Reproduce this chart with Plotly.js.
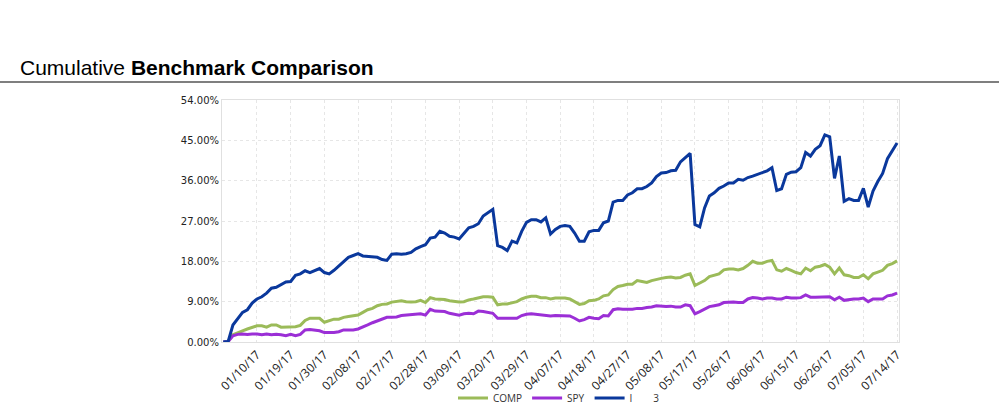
<!DOCTYPE html>
<html>
<head>
<meta charset="utf-8">
<script src="https://cdn.plot.ly/plotly-3.0.1.min.js"></script>
<style>html,body{margin:0;padding:0;background:#fff;}#chart{width:999px;height:418px;}</style>
</head>
<body>
<div id="chart"></div>
<script>
// Weekday dates from 12/30/2016 to 07/14/2017 (category labels)
function buildDates(start, count) {
  var out = [];
  var d = new Date(start);
  while (out.length < count) {
    var wd = d.getDay();
    if (wd !== 0 && wd !== 6) {
      var mm = String(d.getMonth() + 1).padStart(2, '0');
      var dd = String(d.getDate()).padStart(2, '0');
      var yy = String(d.getFullYear()).slice(2);
      out.push(mm + '/' + dd + '/' + yy);
    }
    d.setDate(d.getDate() + 1);
  }
  return out;
}
var dates = buildDates('2016-12-30T12:00:00', 141);

var seriesNames = ['COMP', 'SPY', 'I        3'];

var compValues = [
  0, 0.1, 1.6, 2.1, 2.5, 2.9, 3.3, 3.6, 3.6, 3.3,
  3.8, 3.8, 3.3, 3.3, 3.4, 3.4, 3.7, 4.8, 5.3, 5.3,
  5.3, 4.4, 4.7, 5.1, 5.1, 5.5, 5.7, 5.9, 6.0, 6.6,
  7.2, 7.5, 8.1, 8.4, 8.5, 8.9, 9.0, 9.2, 9.0, 8.9,
  9.0, 9.3, 8.8, 9.9, 9.6, 9.5, 9.5, 9.2, 9.0, 8.9,
  9.0, 9.4, 9.6, 9.9, 10.1, 10.1, 10.0, 8.3, 8.5, 8.5,
  8.7, 9.0, 9.6, 10.0, 10.2, 10.2, 9.9, 9.9, 9.6, 9.8,
  9.8, 9.8, 9.6, 9.0, 8.4, 8.6, 9.2, 9.3, 9.6, 10.3,
  10.5, 11.7, 12.4, 12.6, 12.9, 12.9, 13.7, 13.5, 13.3, 13.7,
  14.0, 14.2, 14.4, 14.5, 14.3, 14.4, 14.9, 15.2, 12.6, 13.1,
  13.7, 14.6, 14.9, 15.2, 16.1, 16.3, 16.3, 16.1, 16.4, 17.1,
  18.0, 17.6, 17.6, 18.0, 18.2, 16.1, 15.8, 16.4, 16.0, 15.5,
  15.2, 16.5, 15.9, 16.7, 16.9, 17.3, 16.7, 15.2, 16.5, 15.0,
  14.8, 14.4, 14.4, 15.0, 14.1, 15.2, 15.6, 16.0, 17.1, 17.5,
  18.1
];

var spyValues = [
  0, 0.1, 1.4, 1.7, 1.8, 1.7, 1.8, 1.8, 1.6, 1.8,
  1.6, 1.7, 1.6, 1.4, 1.7, 1.4, 1.7, 2.7, 2.8, 2.7,
  2.5, 2.1, 2.1, 2.1, 2.3, 2.7, 2.7, 2.7, 2.9, 3.3,
  3.8, 4.3, 4.7, 5.2, 5.5, 5.5, 5.6, 5.9, 6.0, 6.0,
  6.2, 6.3, 6.0, 7.3, 6.9, 6.9, 6.8, 6.4, 6.2, 6.0,
  6.3, 6.4, 6.3, 6.9, 6.8, 6.6, 6.4, 5.3, 5.3, 5.3,
  5.2, 5.3, 5.9, 6.2, 6.3, 6.2, 6.0, 5.9, 5.8, 5.9,
  5.9, 5.9, 5.8, 5.3, 4.7, 5.0, 5.5, 5.3, 5.2, 5.9,
  5.8, 7.2, 7.4, 7.3, 7.3, 7.3, 7.5, 7.5, 7.7, 7.8,
  8.1, 8.0, 7.9, 8.0, 7.8, 7.8, 8.3, 8.1, 6.3, 6.8,
  7.4, 7.9, 8.1, 8.3, 8.8, 8.9, 8.9, 8.8, 8.8, 9.6,
  9.9, 9.8, 9.6, 9.8, 9.8, 9.6, 9.6, 10.0, 9.8, 9.8,
  9.9, 10.5, 10.0, 10.0, 10.0, 10.1, 10.1, 9.4, 10.0, 9.3,
  9.5, 9.6, 9.6, 9.8, 9.0, 9.6, 9.6, 9.6, 10.3, 10.5,
  10.9
];

var portValues = [
  0, 0.1, 3.8, 5.3, 6.6, 7.2, 8.7, 9.6, 10.1, 10.9,
  12.0, 12.2, 12.8, 13.4, 13.5, 14.9, 15.2, 15.9, 15.5, 15.9,
  16.4, 15.5, 15.2, 16.0, 16.9, 18.0, 18.9, 19.3, 19.7, 19.2,
  19.1, 18.9, 18.9, 18.4, 18.2, 19.6, 19.7, 19.6, 19.7, 20.0,
  20.8, 21.3, 21.7, 23.2, 23.4, 24.7, 24.3, 23.6, 23.4, 23.0,
  24.3, 25.5, 25.8, 26.4, 28.1, 28.8, 29.6, 21.5, 21.1, 20.4,
  22.5, 22.1, 24.7, 26.7, 27.3, 27.3, 26.8, 27.7, 24.1, 25.1,
  25.8, 26.0, 25.8, 24.3, 22.5, 22.5, 24.6, 24.9, 24.9, 26.6,
  27.0, 31.2, 31.6, 31.6, 32.8, 33.3, 34.2, 34.2, 34.7, 35.5,
  36.9, 37.7, 37.8, 38.2, 38.3, 40.2, 41.1, 42.1, 26.2, 25.7,
  29.9, 32.6, 33.3, 34.3, 34.8, 35.5, 35.5, 36.3, 36.1, 36.7,
  37.0, 37.4, 37.8, 38.2, 38.9, 33.8, 34.2, 37.4, 37.9, 38.0,
  38.9, 42.3, 41.5, 43.0, 43.8, 46.2, 45.8, 36.5, 41.5, 31.4,
  32.0, 31.6, 31.6, 34.3, 30.1, 33.7, 35.8, 37.6, 40.9, 42.8,
  44.4
];

var yTickVals = [0, 9, 18, 27, 36, 45, 54];
var xTickVals = [];
for (var i = 7; i < dates.length; i += 7) xTickVals.push(dates[i]);

var colors = ['#9bbb59', '#9b2fd6', '#0a389c'];

var traces = [
  {x: dates, y: compValues, name: seriesNames[0], type: 'scatter', mode: 'lines',
   line: {color: colors[0], width: 3}},
  {x: dates, y: spyValues, name: seriesNames[1], type: 'scatter', mode: 'lines',
   line: {color: colors[1], width: 3}},
  {x: dates, y: portValues, name: seriesNames[2], type: 'scatter', mode: 'lines',
   line: {color: colors[2], width: 3}}
];

var layout = {
  width: 999, height: 418,
  margin: {l: 222, r: 100, t: 100, b: 76, pad: 0, autoexpand: false},
  paper_bgcolor: '#fff', plot_bgcolor: '#fff',
  showlegend: true,
  title: {
    text: 'Cumulative <b>Benchmark Comparison</b>',
    x: 20 / 999, xanchor: 'left', xref: 'container',
    y: 1 - 68 / 418, yanchor: 'middle', yref: 'container',
    font: {family: 'Liberation Sans, Arial, sans-serif', size: 21, color: '#000'}
  },
  xaxis: {
    type: 'category', automargin: false,
    range: [-0.27, 140.4],
    tickmode: 'array', tickvals: xTickVals, ticktext: xTickVals,
    tickangle: -45,
    tickfont: {family: 'Open Sans, sans-serif', size: 12, color: '#222'},
    showgrid: true, gridcolor: '#e6e6e6', griddash: 'dot', gridwidth: 1,
    showline: true, linecolor: '#e0e0e0', linewidth: 1, mirror: true,
    ticks: '', zeroline: false, fixedrange: true
  },
  yaxis: {
    range: [0, 54], automargin: false,
    tickmode: 'array', tickvals: yTickVals,
    ticktext: yTickVals.map(function (v) { return v.toFixed(2) + '%'; }),
    tickfont: {family: 'DejaVu Sans, Verdana, sans-serif', size: 10, color: '#222'},
    showgrid: true, gridcolor: '#e6e6e6', griddash: 'dot', gridwidth: 1,
    showline: true, linecolor: '#e0e0e0', linewidth: 1, mirror: true,
    ticks: '', zeroline: false, fixedrange: true
  },
  legend: {
    orientation: 'h', xref: 'container', x: 559 / 999, xanchor: 'center',
    yref: 'container', y: 1 - 398 / 418, yanchor: 'middle',
    font: {family: 'Open Sans, sans-serif', size: 10, color: '#333'},
    itemwidth: 30, bgcolor: 'rgba(0,0,0,0)'
  },
  shapes: [{
    type: 'line', xref: 'paper', yref: 'paper',
    x0: -222 / 677, x1: (999 - 222) / 677,
    y0: (342 - 82) / 242, y1: (342 - 82) / 242,
    line: {color: '#000', width: 1.2}
  }]
};

Plotly.newPlot('chart', traces, layout, {displayModeBar: false, staticPlot: true});
</script>
</body>
</html>
